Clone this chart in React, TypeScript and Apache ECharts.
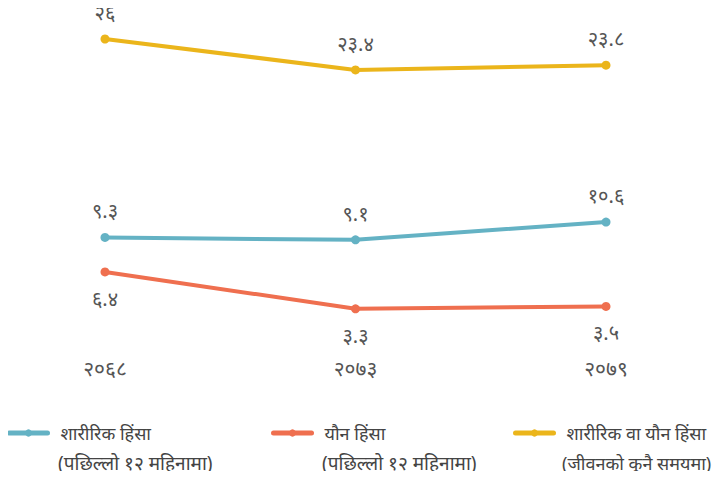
import React, { useEffect, useRef } from "react";
import * as echarts from "echarts";

const years = ["२०६८", "२०७३", "२०७९"];
const physical = [9.3, 9.1, 10.6];
const sexual = [6.4, 3.3, 3.5];
const either = [26, 23.4, 23.8];

const namePhysical = "शारीरिक हिंसा";
const nameSexual = "यौन हिंसा";
const nameEither = "शारीरिक वा यौन हिंसा";
const subPhysical = "(पछिल्लो १२ महिनामा)";
const subSexual = "(पछिल्लो १२ महिनामा)";
const subEither = "(जीवनको कुनै समयमा)";

const digits = ["०", "१", "२", "३", "४", "५", "६", "७", "८", "९"];
const toNep = (v: number) =>
  String(v)
    .split("")
    .map((c) => (c >= "0" && c <= "9" ? digits[+c] : c))
    .join("");

const FONT = "'Noto Sans', sans-serif";

export default function App() {
  const ref = useRef<HTMLDivElement>(null);
  useEffect(() => {
    const chart = echarts.init(ref.current!, undefined, { renderer: "svg" });
    const label = (pos: string) => ({
      show: true,
      position: pos,
      distance: 12,
      color: "#555",
      fontSize: 20,
      fontFamily: FONT,
      formatter: (p: any) => toNep(p.value),
    });
    const mk = (name: string, data: number[], color: string, pos: string) => ({
      name,
      type: "line",
      data,
      symbol: "circle",
      symbolSize: 9,
      lineStyle: { width: 4, color },
      itemStyle: { color },
      label: label(pos),
    });
    const legend = (name: string, left: number) => ({
      data: [name],
      left,
      top: 424,
      padding: 0,
      itemWidth: 38,
      itemHeight: 9,
      itemGap: 10,
      lineStyle: { width: 5, cap: "round" },
      textStyle: { fontSize: 18, color: "#444", fontFamily: FONT, padding: [0, 0, 0, 8] },
    });
    chart.setOption({
      animation: false,
      grid: { left: 105, right: 116, top: 39, bottom: 131 },
      xAxis: {
        type: "category",
        data: years,
        boundaryGap: false,
        axisLine: { show: false },
        axisTick: { show: false },
        axisLabel: { fontSize: 21, color: "#555", margin: 9, fontFamily: FONT },
      },
      yAxis: {
        type: "value",
        min: 0,
        max: 26,
        show: false,
        splitLine: { show: false },
      },
      legend: [legend(namePhysical, 7), legend(nameSexual, 271), legend(nameEither, 513)],
      graphic: [
        { type: "text", left: 58, top: 453, style: { text: subPhysical, fontSize: 19, fill: "#444", fontFamily: FONT } },
        { type: "text", left: 322, top: 453, style: { text: subSexual, fontSize: 19, fill: "#444", fontFamily: FONT } },
        { type: "text", left: 562, top: 454, style: { text: subEither, fontSize: 18, fill: "#444", fontFamily: FONT } },
      ],
      series: [
        mk(namePhysical, physical, "#64b2c4", "top"),
        mk(nameSexual, sexual, "#ef6f4f", "bottom"),
        mk(nameEither, either, "#ebb51b", "top"),
      ],
    });
    return () => chart.dispose();
  }, []);
  return <div ref={ref} style={{ width: 722, height: 479, margin: -8 }} />;
}
